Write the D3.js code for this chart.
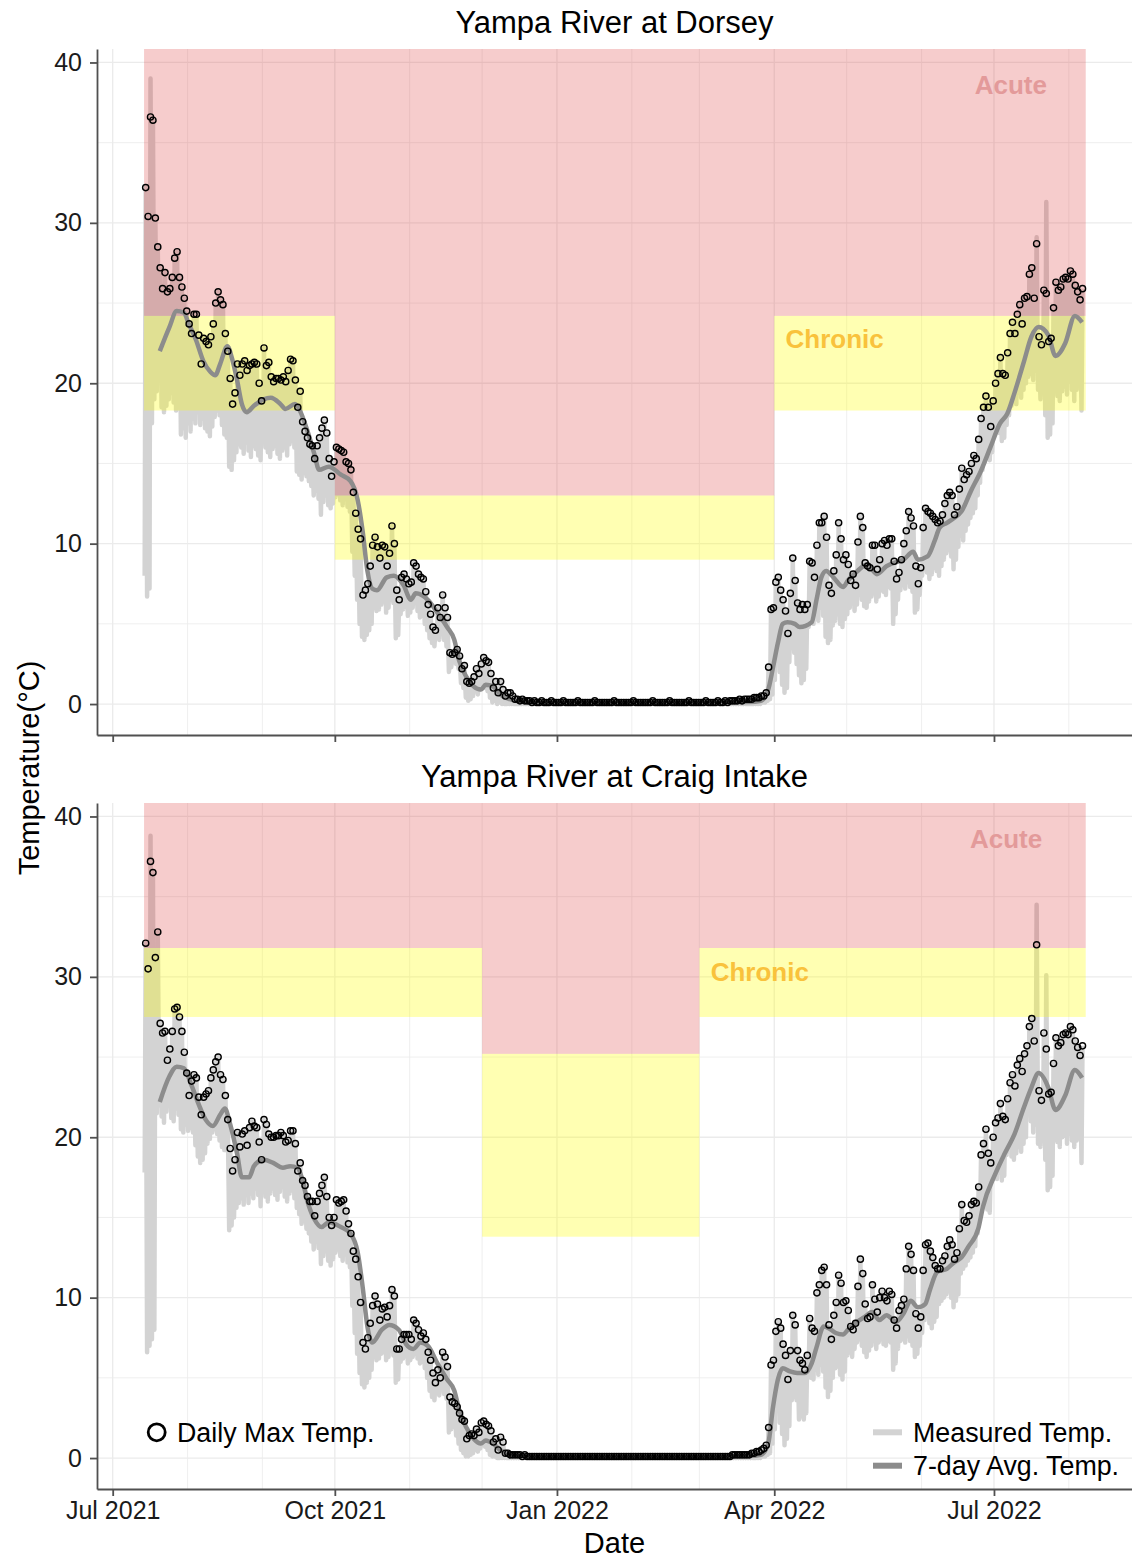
<!DOCTYPE html>
<html><head><meta charset="utf-8">
<script src="https://cdn.jsdelivr.net/npm/d3@7"></script>
<style>body{margin:0;background:#fff} text{font-family:"Liberation Sans",Arial,sans-serif}</style>
</head><body><svg id="c" width="1132" height="1558"></svg>
<script>
// ---------------- DATA ----------------
const firstDayStr = "2021-07-14";
const yTicks = [0, 10, 20, 30, 40];
const xTickLabels = ["Jul 2021", "Oct 2021", "Jan 2022", "Apr 2022", "Jul 2022"];
const xTickDates = ["2021-07-01", "2021-10-01", "2022-01-01", "2022-04-01", "2022-07-01"];

// Yampa River at Dorsey: daily max (circles), daily min (lower edge of measured)
const dorseyMax = [
32.2,30.4,36.6,36.4,30.3,28.5,27.2,25.9,26.9,25.7,
25.9,26.6,27.8,28.2,26.6,26.0,25.3,24.5,23.7,23.1,
24.3,24.3,23.0,21.2,22.8,22.6,22.4,22.9,23.7,25.0,
25.7,25.2,24.9,23.1,22.0,20.3,18.7,19.4,21.2,20.5,
21.2,21.4,20.8,21.1,21.2,21.3,21.2,20.0,18.9,22.2,
21.1,21.3,20.4,20.1,20.3,20.3,20.2,20.4,20.1,20.8,
21.5,21.4,20.2,18.5,19.5,17.6,17.0,16.6,16.2,16.1,
15.3,16.1,16.6,17.2,17.7,16.9,15.3,14.2,15.1,16.0,
15.9,15.8,15.7,15.1,15.0,14.6,13.2,11.9,10.9,10.3,
6.8,7.1,7.5,8.6,9.9,10.4,9.8,9.1,9.9,9.8,
8.6,9.4,11.1,10.0,7.1,6.5,7.9,8.1,7.8,7.5,
7.6,8.8,8.6,8.1,7.9,7.8,7.0,6.2,5.6,4.8,
4.6,6.0,5.4,6.8,6.0,5.4,3.2,3.1,3.2,3.4,
3.0,2.2,2.4,1.4,1.3,1.4,1.7,2.2,1.9,2.5,
2.9,2.7,2.6,1.9,1.0,1.4,0.7,1.4,0.9,0.5,
0.7,0.7,0.5,0.3,0.3,0.2,0.3,0.2,0.2,0.2,
0.1,0.2,0.1,0.1,0.2,0.1,0.1,0.1,0.2,0.1,
0.1,0.1,0.1,0.2,0.1,0.1,0.1,0.1,0.1,0.2,
0.1,0.1,0.1,0.1,0.1,0.1,0.2,0.1,0.1,0.1,
0.1,0.1,0.1,0.1,0.2,0.1,0.1,0.1,0.1,0.1,
0.1,0.1,0.2,0.1,0.1,0.1,0.1,0.1,0.1,0.1,
0.2,0.1,0.1,0.1,0.1,0.1,0.1,0.2,0.1,0.1,
0.1,0.1,0.1,0.1,0.1,0.2,0.1,0.1,0.1,0.1,
0.1,0.1,0.2,0.1,0.1,0.1,0.1,0.2,0.1,0.1,
0.2,0.1,0.2,0.2,0.2,0.2,0.3,0.2,0.3,0.3,
0.3,0.3,0.4,0.4,0.4,0.5,0.5,0.7,2.3,5.9,
6.0,7.6,7.9,7.1,6.5,5.8,4.4,6.9,9.1,7.7,
6.3,5.9,6.2,5.9,6.2,8.9,8.8,7.9,9.9,11.3,
11.3,11.7,10.4,7.4,6.9,8.3,9.3,11.3,10.3,9.0,
9.3,8.7,7.7,8.1,7.4,10.1,11.7,11.0,8.8,8.6,
8.5,9.9,9.9,8.4,9.0,10.0,10.2,9.9,10.3,10.3,
8.9,7.8,8.2,9.0,10.0,10.8,12.0,11.6,11.1,8.6,
7.5,8.5,11.0,12.2,12.0,11.9,11.7,11.5,11.3,11.4,
11.8,12.5,13.0,13.2,13.0,11.8,12.3,13.4,14.7,14.0,
14.3,14.5,15.0,15.5,15.3,16.5,17.8,18.5,19.2,18.5,
17.3,18.9,20.0,20.6,21.6,20.6,20.5,21.9,23.1,23.8,
23.1,24.3,24.9,23.7,25.3,25.4,26.8,27.2,25.3,28.7,
22.9,22.4,25.8,25.6,22.6,22.8,24.7,26.3,25.8,26.0,
26.5,26.6,26.5,27.0,26.8,26.1,25.7,25.2,25.9
];
const dorseyMin = [
8.0,6.7,7.2,17.5,19.0,19.5,20.5,18.5,18.2,18.6,
19.0,19.4,18.8,18.3,18.5,16.8,17.2,16.6,17.5,17.0,
17.8,17.5,18.2,17.4,17.8,17.2,17.0,16.7,17.3,17.9,
18.3,18.0,17.4,16.8,16.6,14.8,14.6,15.2,15.7,16.2,
16.0,15.6,16.3,15.8,15.4,16.1,15.9,15.5,15.2,16.4,
16.0,15.7,15.4,15.9,16.1,15.6,15.3,15.8,16.0,15.5,
16.2,16.4,16.0,14.5,14.3,14.0,14.4,14.2,13.9,13.6,
13.0,13.3,12.8,11.8,12.6,13.0,12.4,12.2,12.5,12.9,
13.1,12.7,12.4,12.8,12.3,12.0,9.5,8.0,6.5,5.0,
4.2,4.0,4.3,4.6,5.0,6.0,5.8,5.9,6.2,6.4,
5.7,6.0,6.5,6.3,4.1,4.3,5.6,5.9,6.1,5.5,
5.7,6.0,6.3,5.8,5.4,5.5,5.0,4.6,4.1,3.8,
3.6,4.2,4.0,4.4,4.0,3.6,2.0,2.3,2.6,2.5,
2.2,1.3,1.0,0.4,0.2,0.3,0.5,0.8,0.6,0.9,
1.2,1.0,0.8,0.4,0.1,0.2,0.0,0.1,0.0,0.0,
0,0,0,0,0,0,0,0,0,0,
0,0,0,0,0,0,0,0,0,0,
0,0,0,0,0,0,0,0,0,0,
0,0,0,0,0,0,0,0,0,0,
0,0,0,0,0,0,0,0,0,0,
0,0,0,0,0,0,0,0,0,0,
0,0,0,0,0,0,0,0,0,0,
0,0,0,0,0,0,0,0,0,0,
0,0,0,0,0,0,0,0,0,0,
0,0,0,0,0,0,0,0,0,0,
0,0,0,0,0,0,0.1,0.1,0.2,0.3,
0.6,1.5,2.8,2.0,1.2,0.7,1.0,2.6,3.5,3.2,
2.5,1.8,1.3,1.5,2.2,4.8,5.3,5.0,5.6,5.2,
6.0,5.5,4.2,3.8,4.0,4.9,5.2,5.6,5.0,4.8,
5.3,5.6,6.0,6.3,5.8,6.2,6.8,6.5,6.1,6.0,
6.4,6.7,6.9,6.4,6.7,7.1,7.0,6.8,7.3,7.2,
5.0,5.6,6.5,7.1,7.4,7.2,7.6,7.3,7.0,5.7,
5.9,6.8,8.0,8.4,8.2,7.8,8.1,8.5,8.3,8.0,
8.6,9.0,9.4,9.6,9.2,8.4,9.0,9.8,10.5,10.2,
10.8,11.2,11.6,11.9,12.2,13.0,13.8,14.6,15.4,16.0,
15.2,15.7,16.8,17.2,16.9,16.4,16.6,17.4,18.0,18.6,
19.0,18.7,19.4,19.1,19.6,20.0,20.4,20.6,20.2,20.8,
19.6,19.0,19.5,18.0,16.6,16.8,17.5,19.8,19.2,18.9,
19.5,19.8,19.3,20.1,19.6,18.9,19.6,19.9,18.3
];
// short measured peaks above the daily-max circle: [day index, value]
const dorseySpikes = [[2, 39.0], [369, 29.1], [373, 31.3]];
// 7-day average: [day index, value]
const dorseyAvg = [
[6,22.0],[10,23.5],[13,24.5],[16,24.4],[18,23.7],[21,22.7],[24,21.4],[27,20.7],[29,20.5],[31,21.2],
[34,22.3],[36,21.5],[38,20.2],[40,18.7],[42,18.2],[45,18.6],[49,19.0],[52,19.1],[56,18.7],[58,18.4],
[62,18.7],[64,18.3],[67,17.1],[70,15.6],[72,14.6],[76,14.8],[81,14.3],[85,13.9],[88,12.7],[90,10.8],
[92,8.3],[94,7.2],[96,7.1],[100,7.9],[103,8.0],[107,7.4],[110,6.5],[112,6.9],[117,6.5],[121,5.7],
[125,4.8],[128,4.0],[130,2.7],[133,1.7],[136,1.1],[139,0.9],[141,1.2],[144,1.1],[147,0.6],[151,0.3],
[156,0.15],[165,0.1],[200,0.1],[235,0.1],[250,0.12],[255,0.2],[258,0.9],[260,2.3],[262,3.8],[264,5.0],
[266,5.1],[269,5.0],[271,4.8],[276,5.1],[278,6.5],[280,7.9],[282,8.3],[285,7.9],[289,7.3],[291,7.7],
[295,8.3],[299,8.7],[303,8.1],[307,8.6],[312,8.9],[314,9.0],[318,9.5],[320,9.0],[324,9.2],[327,10.2],
[329,11.0],[332,11.3],[335,11.6],[338,12.0],[342,13.3],[346,14.5],[350,16.0],[354,17.5],[357,18.1],[360,19.4],
[364,21.4],[367,22.9],[370,23.5],[374,23.0],[377,21.7],[381,22.5],[385,24.2],[388,23.8]
];
const dorseyStdStart = ["2021-07-14", "2021-10-01", "2022-04-01"];
const dorseyStdEnd   = ["2021-10-01", "2022-04-01", "2022-08-08"];
const dorseyChronic  = [18.3, 9.0, 18.3];
const dorseyAcute    = [24.2, 13.0, 24.2];

// Yampa River at Craig Intake
const craigMax = [
32.1,30.5,37.2,36.5,31.2,32.8,27.1,26.5,26.6,24.8,
25.5,26.6,28.0,28.1,27.5,26.6,25.3,24.0,22.6,23.5,
23.9,23.7,22.5,21.4,22.5,22.7,22.9,23.7,24.2,24.7,
25.0,23.9,23.6,22.6,21.1,19.3,17.9,18.6,20.3,19.4,
20.2,20.4,19.5,20.6,21.0,20.7,20.6,19.7,18.6,21.1,
20.8,20.2,20.0,20.0,20.1,20.1,20.3,20.1,19.7,19.8,
20.4,20.4,19.6,17.9,18.4,17.3,17.0,16.3,16.0,16.0,
15.1,16.0,16.5,17.0,17.5,16.3,15.0,14.5,15.0,16.1,
15.9,16.0,16.1,15.4,14.6,14.0,12.9,12.4,11.3,9.7,
7.2,6.8,7.5,8.4,9.5,10.1,9.6,8.6,9.3,9.4,
8.8,9.5,10.5,10.1,6.8,6.8,7.4,7.7,7.7,7.7,
7.4,8.6,8.4,8.0,7.6,7.8,7.4,6.6,6.1,5.3,
4.7,5.5,5.0,6.6,6.3,5.7,3.8,3.5,3.4,3.2,
2.8,2.4,2.3,1.2,1.4,1.5,1.4,1.8,1.6,2.2,
2.3,2.1,2.0,1.7,1.0,1.2,0.5,1.3,1.0,0.3,
0.3,0.2,0.2,0.2,0.2,0.2,0.1,0.2,0.1,0.1,
0.1,0.1,0.1,0.1,0.1,0.1,0.1,0.1,0.1,0.1,
0.1,0.1,0.1,0.1,0.1,0.1,0.1,0.1,0.1,0.1,
0.1,0.1,0.1,0.1,0.1,0.1,0.1,0.1,0.1,0.1,
0.1,0.1,0.1,0.1,0.1,0.1,0.1,0.1,0.1,0.1,
0.1,0.1,0.1,0.1,0.1,0.1,0.1,0.1,0.1,0.1,
0.1,0.1,0.1,0.1,0.1,0.1,0.1,0.1,0.1,0.1,
0.1,0.1,0.1,0.1,0.1,0.1,0.1,0.1,0.1,0.1,
0.1,0.1,0.1,0.1,0.1,0.1,0.1,0.1,0.1,0.1,
0.1,0.1,0.1,0.2,0.2,0.2,0.2,0.2,0.2,0.2,
0.2,0.3,0.3,0.4,0.4,0.5,0.6,0.8,1.9,5.8,
6.1,7.9,8.5,8.1,7.1,6.4,4.9,6.7,8.9,8.3,
6.7,6.1,5.9,5.5,6.4,8.7,8.1,7.9,10.3,10.8,
11.7,11.9,10.8,8.3,7.4,8.9,9.7,11.4,10.9,9.7,
9.8,9.2,8.2,8.0,8.4,10.7,12.4,11.5,9.6,8.7,
8.8,10.8,9.9,9.1,10.0,10.4,10.0,9.8,10.4,10.2,
8.6,8.1,9.2,9.5,9.9,11.8,13.2,12.7,11.7,9.0,
8.1,8.8,11.7,13.3,13.4,12.9,12.5,12.0,11.8,11.8,
12.3,12.6,13.2,13.6,13.3,12.4,12.8,14.3,15.8,14.8,
14.7,15.1,15.8,16.0,15.9,16.9,18.9,19.6,20.5,19.0,
18.4,20.0,20.9,21.2,22.1,21.3,21.1,22.4,23.4,23.9,
23.2,24.5,24.9,24.1,25.2,25.7,26.9,27.4,26.0,32.0,
22.9,22.3,26.5,25.5,22.7,22.8,24.6,26.2,25.7,25.9,
26.4,26.5,26.4,26.9,26.7,26.0,25.6,25.1,25.7
];
const craigMin = [
17.8,6.6,7.0,7.4,8.0,21.5,22.0,21.3,20.9,21.6,
22.0,21.2,21.0,21.8,21.4,20.5,20.3,20.8,20.4,20.6,
20.3,19.5,18.8,18.4,18.6,19.0,19.6,19.9,20.3,20.5,
20.2,19.8,19.4,19.2,19.6,14.2,14.5,15.0,15.6,15.9,
16.2,15.8,16.4,15.9,16.5,16.2,16.8,16.4,15.7,16.6,
16.3,16.0,16.5,16.8,16.4,16.1,16.6,16.9,16.3,16.0,
16.5,16.7,16.2,15.6,15.2,14.6,14.8,14.3,14.0,13.5,
13.0,13.6,13.1,12.1,12.6,12.9,12.3,12.0,12.4,12.8,
13.0,12.6,12.3,12.7,12.2,11.9,9.5,7.8,6.5,5.3,
4.6,4.4,4.7,5.0,5.5,6.3,6.1,6.2,6.5,6.6,
6.1,6.3,6.7,6.4,4.7,4.9,6.0,6.2,6.4,5.9,
6.1,6.3,6.5,6.2,5.9,6.0,5.6,5.0,4.2,3.8,
3.6,4.1,3.9,4.3,4.0,3.7,1.6,1.8,2.0,1.4,
0.9,0.5,0.3,0.1,0.1,0.2,0.3,0.5,0.4,0.6,
0.8,0.7,0.5,0.2,0.1,0.1,0.0,0.0,0.0,0.0,
0,0,0,0,0,0,0,0,0,0,
0,0,0,0,0,0,0,0,0,0,
0,0,0,0,0,0,0,0,0,0,
0,0,0,0,0,0,0,0,0,0,
0,0,0,0,0,0,0,0,0,0,
0,0,0,0,0,0,0,0,0,0,
0,0,0,0,0,0,0,0,0,0,
0,0,0,0,0,0,0,0,0,0,
0,0,0,0,0,0,0,0,0,0,
0,0,0,0,0,0,0,0,0,0,
0,0,0,0,0,0,0.1,0.1,0.2,0.3,
0.9,1.8,3.0,2.2,1.5,0.8,1.2,2.0,3.6,3.8,
3.6,2.4,2.6,2.4,2.8,5.3,5.0,4.9,5.5,5.2,
5.8,5.4,4.4,3.8,4.2,5.0,5.6,5.7,5.2,4.9,
5.4,6.4,6.6,6.3,6.8,7.2,7.4,7.0,6.6,6.3,
6.7,7.0,7.3,6.8,7.2,7.4,7.1,7.0,7.3,7.2,
5.5,5.9,6.8,7.3,7.4,7.2,7.6,7.3,7.0,6.3,
6.5,7.0,7.8,8.6,9.0,8.4,8.1,8.5,8.8,9.6,
9.8,10.0,10.2,10.4,10.0,9.4,9.8,10.2,11.5,11.8,
12.0,12.3,12.5,12.8,13.2,14.0,15.3,15.6,16.0,15.5,
15.3,17.3,17.6,17.4,17.8,17.3,17.6,18.9,19.4,18.8,
18.6,19.0,19.4,19.1,19.6,20.0,21.7,21.0,20.3,20.8,
19.6,19.4,19.8,18.6,16.7,16.9,17.6,20.2,19.7,19.4,
20.0,20.1,19.6,20.2,19.8,19.4,19.8,20.0,18.4
];
const craigSpikes = [[2, 38.8], [369, 34.5], [373, 30.1]];
const craigAvg = [
[6,22.2],[10,23.8],[13,24.4],[16,24.3],[19,23.3],[22,22.1],[25,21.1],[28,20.7],[31,21.4],[33,21.8],
[35,20.9],[38,19.0],[40,17.5],[43,17.5],[45,18.2],[49,18.6],[53,18.4],[57,18.1],[60,18.2],[63,18.1],
[65,17.4],[67,16.1],[70,14.9],[73,14.4],[76,14.7],[81,14.4],[85,14.0],[88,12.8],[90,10.7],[92,8.2],
[94,7.2],[98,8.0],[101,8.3],[105,8.0],[108,7.1],[111,6.8],[114,7.2],[117,7.0],[121,5.9],[125,4.9],
[128,4.2],[130,3.0],[133,1.9],[136,1.2],[139,0.9],[141,1.1],[144,0.9],[147,0.5],[151,0.25],[156,0.15],
[165,0.1],[200,0.1],[235,0.1],[250,0.12],[255,0.2],[258,0.9],[260,3.2],[262,4.9],[264,5.6],[267,5.4],
[270,5.3],[273,5.3],[276,5.9],[278,6.9],[281,8.2],[283,8.1],[286,7.8],[289,7.7],[291,8.0],[294,8.4],
[298,8.8],[301,9.1],[304,8.6],[307,8.9],[311,8.5],[314,9.0],[317,9.8],[320,9.4],[323,9.6],[325,10.5],
[328,11.6],[332,11.8],[335,12.2],[338,12.5],[341,13.2],[345,14.3],[347,15.7],[352,17.7],[356,19.0],[360,20.2],
[364,21.9],[367,23.1],[370,24.0],[374,23.1],[377,21.7],[381,22.6],[385,24.2],[388,23.7]
];
const craigStdStart = ["2021-07-14", "2021-12-01", "2022-03-01"];
const craigStdEnd   = ["2021-12-01", "2022-03-01", "2022-08-08"];
const craigChronic  = [27.5, 13.8, 27.5];
const craigAcute    = [31.8, 25.2, 31.8];

// label anchors (date, value)
const dorseyLabelDates = ["2022-07-08", "2022-04-26"];
const dorseyLabelValues = [38.6, 22.8];
const craigLabelDates = ["2022-07-06", "2022-03-26"];
const craigLabelValues = [38.6, 30.3];
const labelTexts = ["Acute", "Chronic"];

// ---------------- CHART ----------------
const parse = d3.timeParse("%Y-%m-%d");
const firstDay = parse(firstDayStr);
const dayAt = (i, h) => d3.timeHour.offset(d3.timeDay.offset(firstDay, Math.floor(i)), h);

const svg = d3.select("#c");
const plotL = 97, plotR = 1132;
const x = d3.scaleTime()
  .domain([new Date(2021, 5, 24, 12), new Date(2022, 7, 27, 4)])
  .range([plotL, plotR]);
const yDomain = [-1.93, 40.84];
const FONT = '"Liberation Sans", Arial, sans-serif';
const pink = "rgb(220,50,50)", pinkOp = 0.25;
const yellow = "rgb(255,255,0)", yellowOp = 0.3;

const panels = [
  {id: "d", title: "Yampa River at Dorsey", top: 49, bottom: 735, titleY: 33,
   max: dorseyMax, min: dorseyMin, spikes: dorseySpikes, avg: dorseyAvg,
   s: dorseyStdStart, e: dorseyStdEnd, chronic: dorseyChronic, acute: dorseyAcute,
   ld: dorseyLabelDates, lv: dorseyLabelValues, xlabels: false},
  {id: "c", title: "Yampa River at Craig Intake", top: 803, bottom: 1489, titleY: 787,
   max: craigMax, min: craigMin, spikes: craigSpikes, avg: craigAvg,
   s: craigStdStart, e: craigStdEnd, chronic: craigChronic, acute: craigAcute,
   ld: craigLabelDates, lv: craigLabelValues, xlabels: true}
];

const months = d3.timeMonth.range(new Date(2021, 5, 1), new Date(2022, 9, 1));
const majorDates = xTickDates.map(parse);
const isMajor = d => majorDates.some(m => +m === +d);

panels.forEach(p => {
  const y = d3.scaleLinear().domain(yDomain).range([p.bottom, p.top]);
  svg.append("clipPath").attr("id", "clip" + p.id).append("rect")
    .attr("x", plotL).attr("y", p.top).attr("width", plotR - plotL).attr("height", p.bottom - p.top);
  const g = svg.append("g").attr("clip-path", `url(#clip${p.id})`);

  // grid
  const minorY = [-5, 5, 15, 25, 35];
  g.selectAll(".gym").data(minorY).join("line")
    .attr("x1", plotL).attr("x2", plotR).attr("y1", d => y(d)).attr("y2", d => y(d))
    .attr("stroke", "#ebebeb").attr("stroke-width", 0.8);
  g.selectAll(".gyM").data(yTicks).join("line")
    .attr("x1", plotL).attr("x2", plotR).attr("y1", d => y(d)).attr("y2", d => y(d))
    .attr("stroke", "#ebebeb").attr("stroke-width", 1.3);
  g.selectAll(".gx").data(months).join("line")
    .attr("x1", d => x(d)).attr("x2", d => x(d)).attr("y1", p.top).attr("y2", p.bottom)
    .attr("stroke", "#ebebeb").attr("stroke-width", d => isMajor(d) ? 1.3 : 0.8);

  // measured temperature (daily min -> peak zigzag)
  const spikeMap = new Map(p.spikes.map(s => [s[0], s[1]]));
  const meas = [];
  p.max.forEach((v, i) => {
    const top = spikeMap.has(i) ? Math.max(v, spikeMap.get(i)) : v;
    meas.push({t: dayAt(i, 6), v: p.min[i]});
    meas.push({t: dayAt(i, 16), v: top});
  });
  g.append("path").datum(meas)
    .attr("d", d3.line().x(d => x(d.t)).y(d => y(d.v)))
    .attr("fill", "none").attr("stroke", "#d3d3d3").attr("stroke-width", 4.5)
    .attr("stroke-linejoin", "round");

  // standards
  p.s.forEach((sd, k) => {
    const x0 = x(parse(sd)), x1 = x(parse(p.e[k]));
    g.append("rect").attr("x", x0).attr("width", x1 - x0)
      .attr("y", y(yDomain[1])).attr("height", y(p.acute[k]) - y(yDomain[1]))
      .attr("fill", pink).attr("fill-opacity", pinkOp);
    g.append("rect").attr("x", x0).attr("width", x1 - x0)
      .attr("y", y(p.acute[k])).attr("height", y(p.chronic[k]) - y(p.acute[k]))
      .attr("fill", yellow).attr("fill-opacity", yellowOp);
  });

  // 7-day average
  g.append("path").datum(p.avg)
    .attr("d", d3.line().curve(d3.curveMonotoneX).x(d => x(dayAt(d[0], 12))).y(d => y(d[1])))
    .attr("fill", "none").attr("stroke", "#8c8c8c").attr("stroke-width", 4.5)
    .attr("stroke-linecap", "butt");

  // daily max circles
  g.selectAll(".pt").data(p.max).join("circle")
    .attr("cx", (d, i) => x(dayAt(i, 16))).attr("cy", d => y(d)).attr("r", 3.1)
    .attr("fill", "none").attr("stroke", "#000").attr("stroke-width", 1.4);

  // labels
  labelTexts.forEach((t, k) => {
    g.append("text").attr("x", x(parse(p.ld[k]))).attr("y", y(p.lv[k]))
      .attr("text-anchor", "middle").attr("dy", "0.36em")
      .attr("font-family", FONT).attr("font-weight", "bold").attr("font-size", 26)
      .attr("fill", k === 0 ? "#e39a9a" : "#f9c23c")
      .text(t);
  });

  // axes
  const ay = svg.append("g").attr("transform", `translate(${plotL},0)`)
    .call(d3.axisLeft(y).tickValues(yTicks).tickSize(7).tickPadding(8).tickSizeOuter(0));
  const ax = svg.append("g").attr("transform", `translate(0,${p.bottom})`)
    .call(d3.axisBottom(x).tickValues(majorDates)
      .tickFormat(p.xlabels ? ((d, i) => xTickLabels[i]) : "")
      .tickSize(7).tickPadding(5).tickSizeOuter(0));
  [ay, ax].forEach(a => {
    a.select(".domain").attr("stroke", "#505050").attr("stroke-width", 1.8);
    a.selectAll(".tick line").attr("stroke", "#505050").attr("stroke-width", 1.8);
    a.selectAll(".tick text").attr("font-family", FONT).attr("font-size", 25).attr("fill", "#1a1a1a");
  });

  // title
  svg.append("text").attr("x", (plotL + plotR) / 2).attr("y", p.titleY)
    .attr("text-anchor", "middle").attr("font-family", FONT).attr("font-size", 31)
    .attr("fill", "#000").text(p.title);
});

// axis titles
svg.append("text").attr("transform", "translate(39,768) rotate(-90)")
  .attr("text-anchor", "middle").attr("font-family", FONT).attr("font-size", 29)
  .attr("fill", "#000").text("Temperature(°C)");
svg.append("text").attr("x", (plotL + plotR) / 2).attr("y", 1553)
  .attr("text-anchor", "middle").attr("font-family", FONT).attr("font-size", 29)
  .attr("fill", "#000").text("Date");

// legends
const lg = svg.append("g").attr("font-family", FONT).attr("font-size", 26.8).attr("fill", "#000");
lg.append("circle").attr("cx", 156.7).attr("cy", 1432.3).attr("r", 8.5)
  .attr("fill", "none").attr("stroke", "#000").attr("stroke-width", 2.8);
lg.append("text").attr("x", 177).attr("y", 1432.3).attr("dy", "0.36em").text("Daily Max Temp.");
lg.append("line").attr("x1", 873).attr("x2", 902).attr("y1", 1432.3).attr("y2", 1432.3)
  .attr("stroke", "#d3d3d3").attr("stroke-width", 6);
lg.append("text").attr("x", 913).attr("y", 1432.3).attr("dy", "0.36em").text("Measured Temp.");
lg.append("line").attr("x1", 873).attr("x2", 902).attr("y1", 1465.7).attr("y2", 1465.7)
  .attr("stroke", "#8c8c8c").attr("stroke-width", 6);
lg.append("text").attr("x", 913).attr("y", 1465.7).attr("dy", "0.36em").text("7-day Avg. Temp.");
</script>
</body></html>
